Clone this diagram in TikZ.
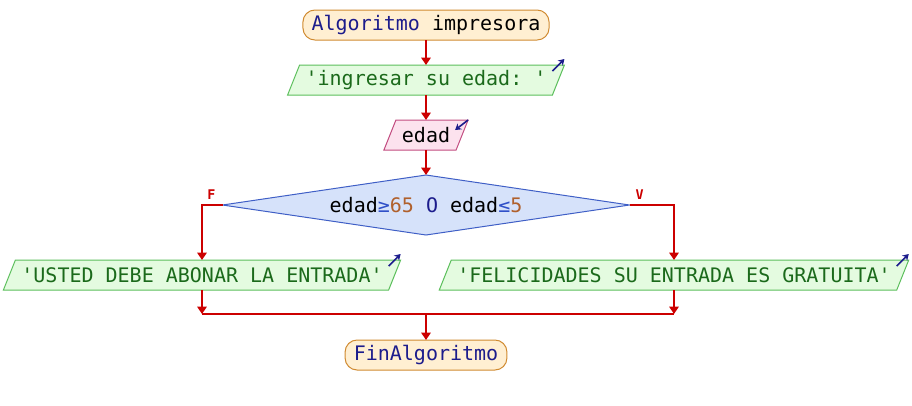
\documentclass[tikz,border=0pt]{standalone}
\usepackage{fontspec}
\setmonofont{DejaVu Sans Mono}
\usetikzlibrary{arrows.meta}
\usetikzlibrary{positioning}
\usetikzlibrary{shapes.geometric}
\usetikzlibrary{backgrounds}

\definecolor{flecha}{HTML}{CC0000}
\definecolor{termborde}{HTML}{D08A30}
\definecolor{termfondo}{HTML}{FFEFD2}
\definecolor{salborde}{HTML}{5CBF5C}
\definecolor{salfondo}{HTML}{E4FBE0}
\definecolor{entborde}{HTML}{C24C80}
\definecolor{entfondo}{HTML}{FCE2EE}
\definecolor{decborde}{HTML}{3F5FC6}
\definecolor{decfondo}{HTML}{D6E2FA}
\definecolor{clave}{HTML}{1C1C8C}
\definecolor{cadena}{HTML}{1B6A1B}
\definecolor{numero}{HTML}{B0602C}
\definecolor{oper}{HTML}{3050C8}

% contorno inclinado detras de un nodo rectangular
\newcommand{\paralelo}[3]{%
  \path[-,draw=#2,fill=#3,line width=0.75pt]
    ([xshift=4.5pt]#1.north west) -- ([xshift=4.5pt]#1.north east)
    -- ([xshift=-4.5pt]#1.south east) -- ([xshift=-4.5pt]#1.south west) -- cycle;}

\begin{document}
\begin{tikzpicture}[->,>={Triangle[width=7pt,length=5.5pt]},x=0.75pt,y=-0.75pt,
                    node distance=18.75pt,line width=1.5pt,draw=flecha,
                    every node/.style={font=\ttfamily\fontsize{15}{18}\selectfont,outer sep=0pt},
                    term/.style={rectangle,rounded corners=9pt,draw=termborde,fill=termfondo,
                                 line width=0.75pt,minimum height=22.5pt,inner xsep=6.5pt,inner ysep=0pt},
                    salida/.style={rectangle,text=cadena,minimum height=22.5pt,inner xsep=9pt,inner ysep=0pt},
                    entrada/.style={salida,text=black},
                    decision/.style={diamond,aspect=6.78,draw=decborde,fill=decfondo,line width=0.75pt,
                                     minimum width=305.25pt,minimum height=45pt,inner sep=0pt},
                    lbl/.style={font=\ttfamily\bfseries\fontsize{10}{12}\selectfont,text=flecha,inner sep=0pt},
                    io/.style={draw=clave,line width=1.2pt,-{Stealth[width=5.5pt,length=4.5pt]}}]

  \useasboundingbox (0,0) rectangle (912,405);

  \node[term] (ini) at (426,25) {{\color{clave}Algoritmo} impresora};
  \node[salida] (pide) [below=of ini] {'ingresar su edad: '};
  \node[entrada] (lee) [below=of pide] {edad};
  \node[decision] (cond) [below=of lee]
       {edad{\color{oper}≥}{\color{numero}65} {\color{clave}O} edad{\color{oper}≤}{\color{numero}5}};
  \node[lbl] (f) [above left=4.5pt and 5.25pt of cond.west] {F};
  \node[lbl] (v) [above right=4.5pt and 4.5pt of cond.east] {V};

  \node[salida] (no) [below=of cond,xshift=-168pt] {'USTED DEBE ABONAR LA ENTRADA'};
  \node[salida] (si) [below=of cond,xshift=186pt] {'FELICIDADES SU ENTRADA ES GRATUITA'};

  \coordinate[below=18pt of no.south] (jn);
  \coordinate[below=18pt of si.south] (js);
  \coordinate (jm) at (jn -| cond);
  \node[term] (fin) [below=19.5pt of jm] {\color{clave}FinAlgoritmo};

  \begin{scope}[on background layer]
    \paralelo{pide}{salborde}{salfondo}
    \paralelo{lee}{entborde}{entfondo}
    \paralelo{no}{salborde}{salfondo}
    \paralelo{si}{salborde}{salfondo}
  \end{scope}

  % flechas de flujo
  \draw (ini) -- (pide);
  \draw (pide) -- (lee);
  \draw (lee) -- (cond);
  \draw (cond.west) -| (no);
  \draw (cond.east) -| (si);
  \draw (no) -- (jn);
  \draw (si) -- (js);
  \draw[-] (jn) -- (js);
  \draw (jm) -- (fin);

  % marcas de entrada/salida
  \draw[io] ([shift={(-6,6)}]pide.north east) -- ([shift={(6,-6)}]pide.north east);
  \draw[io] ([shift={(-6,6)}]no.north east) -- ([shift={(6,-6)}]no.north east);
  \draw[io] ([shift={(-6,6)}]si.north east) -- ([shift={(6,-6)}]si.north east);
  \draw[io] ([shift={(6,0)}]lee.north east) -- ([shift={(-7,10)}]lee.north east);
\end{tikzpicture}
\end{document}
